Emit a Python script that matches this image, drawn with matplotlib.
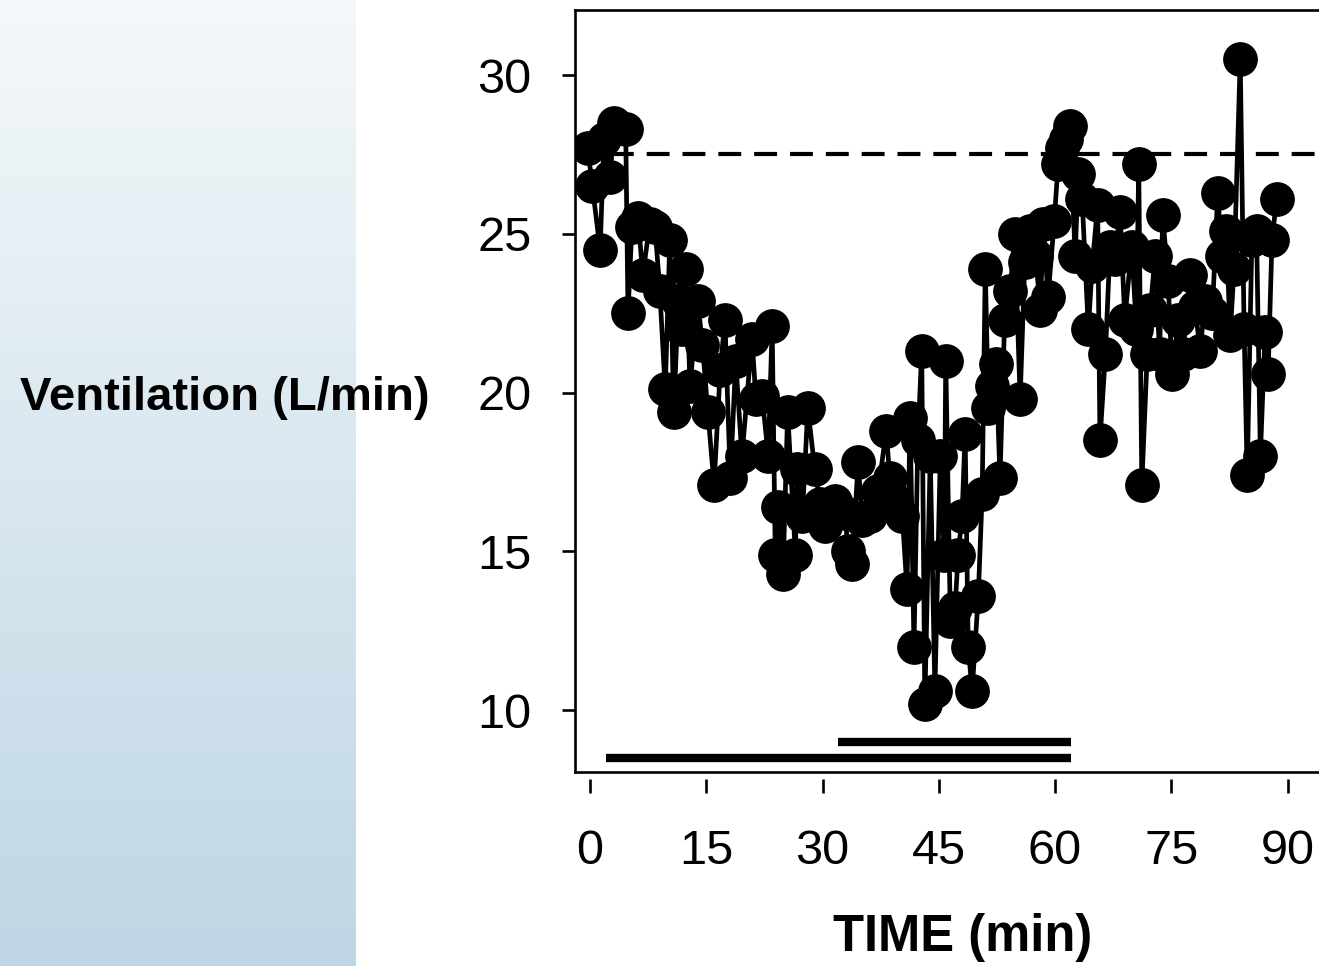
import numpy as np
import matplotlib
matplotlib.use("Agg")
import matplotlib.pyplot as plt

plt.rcParams['font.family'] = ['Liberation Sans', 'DejaVu Sans']

# ---- data ----
time_min = [-0.3, 0.3, 1.3, 1.8, 2.6, 3.1, 4.6, 4.9, 5.4, 6.2, 6.8, 7.7, 8.4, 9.0, 9.7,
            10.3, 10.8, 11.4, 11.9, 12.4, 12.9, 13.9, 14.5, 15.2, 16.0, 16.8, 17.4, 18.1,
            18.8, 19.6, 20.9, 21.4, 22.2, 23.0, 23.5, 23.9, 24.3, 24.9, 25.5, 26.5, 26.7,
            27.4, 28.1, 29.0, 29.7, 30.3, 31.6, 32.9, 33.3, 33.8, 34.6, 35.1, 36.1, 37.2,
            38.2, 38.7, 39.5, 40.3, 40.9, 41.3, 41.8, 42.3, 42.8, 43.2, 43.9, 44.5, 45.2,
            45.7, 45.9, 46.5, 47.1, 47.5, 48.0, 48.4, 48.8, 49.3, 50.1, 50.6, 51.0, 51.4,
            51.9, 52.4, 52.9, 53.5, 54.2, 54.8, 55.5, 56.1, 56.8, 57.5, 58.1, 58.5, 59.1,
            59.9, 60.4, 60.9, 61.4, 61.9, 62.6, 63.0, 63.5, 64.3, 64.8, 65.5, 65.8, 66.5,
            67.1, 67.7, 68.4, 69.0, 69.9, 70.5, 70.8, 71.2, 71.9, 72.3, 72.9, 73.5, 73.9,
            74.6, 75.1, 75.9, 76.5, 77.4, 78.1, 78.7, 79.4, 80.3, 81.0, 81.5, 82.1, 82.6,
            83.1, 83.9, 84.4, 84.8, 85.4, 86.0, 86.5, 87.1, 87.5, 88.0, 88.6]
ventilation = [27.7, 26.5, 24.5, 28.0, 26.8, 28.5, 28.3, 22.5, 25.2, 25.5, 23.7, 25.3, 25.2,
               23.2, 20.1, 24.8, 19.4, 22.9, 22.0, 23.9, 20.2, 22.9, 21.5, 19.4, 17.1, 20.7,
               22.3, 17.3, 21.0, 18.0, 21.7, 19.8, 19.9, 18.0, 22.1, 14.9, 16.4, 14.3, 19.4,
               14.9, 17.6, 16.1, 19.5, 17.6, 16.5, 15.8, 16.6, 16.2, 15.0, 14.6, 17.8, 16.0,
               16.1, 16.9, 18.8, 17.3, 16.6, 16.1, 13.8, 19.2, 12.0, 18.5, 21.3, 10.2, 18.0,
               10.6, 18.0, 14.9, 21.0, 12.8, 13.2, 14.9, 16.1, 18.7, 12.0, 10.6, 13.6, 16.8,
               23.9, 19.5, 20.2, 20.9, 17.3, 22.3, 23.2, 25.0, 19.8, 24.1, 25.1, 24.3, 22.6,
               25.3, 23.0, 25.4, 27.2, 27.7, 28.0, 28.4, 24.3, 26.9, 26.1, 22.0, 24.0, 25.9,
               18.5, 21.2, 24.6, 24.2, 25.7, 22.3, 24.6, 22.0, 27.2, 17.1, 21.2, 22.6, 24.3,
               21.2, 25.6, 23.5, 20.6, 22.3, 21.2, 23.7, 22.7, 21.3, 22.9, 22.5, 26.3, 24.3,
               25.1, 21.8, 23.9, 30.5, 22.0, 17.4, 24.8, 25.1, 18.0, 21.9, 20.6, 24.8, 26.1]
baseline = 27.5
bar_starts = [2, 32]
bar_ends = [62, 62]
bar_levels = [8.5, 9.0]
x_ticks = [0, 15, 30, 45, 60, 75, 90]
y_ticks = [10, 15, 20, 25, 30]

W, H = 1319, 966
fig = plt.figure(figsize=(W / 100, H / 100), dpi=100)

# gradient panel on left
gax = fig.add_axes([0, 0, 356 / W, 1])
top = np.array([244, 248, 250]) / 255
bot = np.array([190, 214, 228]) / 255
t = np.linspace(0, 1, 256)[:, None]
grad = top[None, None, :] * (1 - t[..., None]) + bot[None, None, :] * t[..., None]
grad = np.repeat(grad, 2, axis=1)
gax.imshow(grad, aspect='auto', extent=[0, 1, 0, 1])
gax.axis('off')

left_px, right_px = 575, 1334
top_px, bot_px = 10, 772
ax = fig.add_axes([left_px / W, (H - bot_px) / H, (right_px - left_px) / W, (bot_px - top_px) / H])
ax.set_xlim(-1.94, 96.0)
ax.set_ylim(8.05, 32.05)

ax.plot(time_min, ventilation, color='black', lw=3.4, marker='o', ms=24,
        markerfacecolor='black', markeredgecolor='black', zorder=3)
ax.axhline(baseline, color='black', lw=3, dashes=(5.5, 3.1), zorder=2)
for s, e, lv in zip(bar_starts, bar_ends, bar_levels):
    ax.plot([s, e], [lv, lv], color='black', lw=6, solid_capstyle='butt', zorder=2)

for sp in ['left', 'top']:
    ax.spines[sp].set_linewidth(1.9)
ax.spines['right'].set_visible(False)
ax.spines['bottom'].set_position(('outward', 5))
ax.spines['bottom'].set_visible(False)
ax.axhline(8.05, color='black', lw=1.9, clip_on=False, zorder=4)

ax.set_xticks(x_ticks)
ax.set_yticks(y_ticks)
ax.tick_params(axis='y', direction='out', length=9.5, width=1.9, labelsize=35, pad=22)
ax.tick_params(axis='x', direction='out', length=10, width=1.9, labelsize=35, pad=26)

fig.text(225 / W, 1 - 398 / H, 'Ventilation (L/min)', ha='center', va='center',
         fontsize=34, fontweight='bold')
fig.text(963 / W, 1 - 938 / H, 'TIME (min)', ha='center', va='center',
         fontsize=36.5, fontweight='bold')

fig.savefig('out.png', dpi=100)
